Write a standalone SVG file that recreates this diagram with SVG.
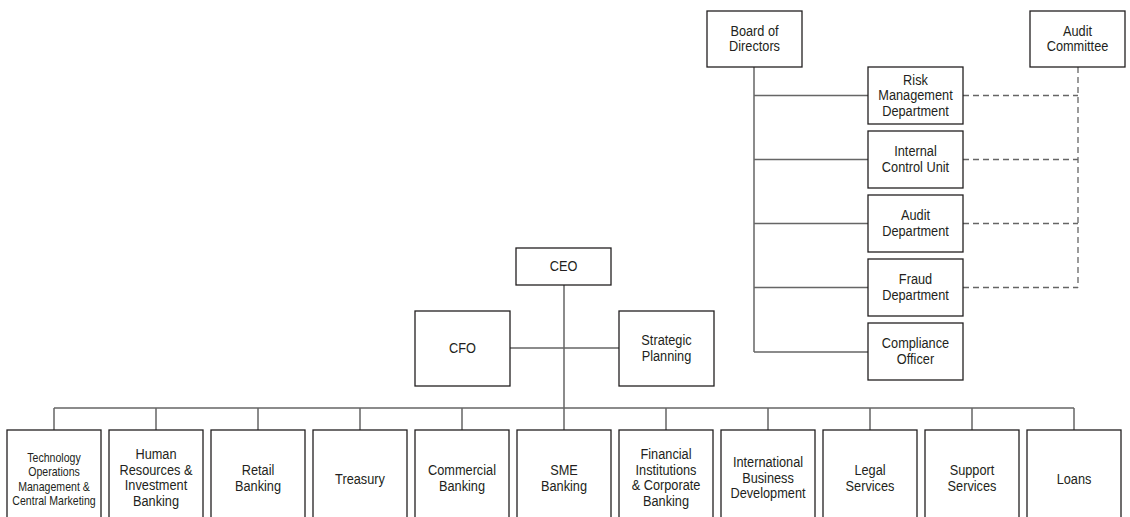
<svg xmlns="http://www.w3.org/2000/svg" width="1130" height="517" viewBox="0 0 1130 517">
<style>
rect.box{fill:#fff;stroke:#231f20;stroke-width:1.3}
text{font-family:"Liberation Sans",Arial,sans-serif;font-size:14.5px;fill:#231f20;text-anchor:middle}
text.sm{font-size:12px}
.ln{stroke:#666;stroke-width:1.5;fill:none}
.dl{stroke:#666;stroke-width:1.3;fill:none;stroke-dasharray:6 4}
</style>
<rect width="1130" height="517" fill="#fff"/>
<g id="connectors">
<path class="ln" d="M564 285V430M510 348H619M54 408H1074M54 408V430M156 408V430M258 408V430M360 408V430M462 408V430M666 408V430M768 408V430M870 408V430M972 408V430M1074 408V430"/>
<path class="ln" d="M754 67V352M754 95.5H868M754 159.5H868M754 223.5H868M754 287.5H868M754 352H868"/>
<path class="dl" d="M963 95.5H1078M963 159.5H1078M963 223.5H1078M963 287.5H1078M1078 67V287.5"/>
</g>
<g id="board"><rect class="box" x="707" y="11" width="95" height="56"/><text transform="translate(754.5,0) scale(0.88,1)" y="36"><tspan x="0">Board of</tspan><tspan x="0" dy="15.5">Directors</tspan></text></g>
<g id="audit-committee"><rect class="box" x="1030" y="11" width="95" height="56"/><text transform="translate(1077.5,0) scale(0.88,1)" y="36"><tspan x="0">Audit</tspan><tspan x="0" dy="15.5">Committee</tspan></text></g>
<g id="risk"><rect class="box" x="868" y="67" width="95" height="57"/><text transform="translate(915.5,0) scale(0.88,1)" y="85"><tspan x="0">Risk</tspan><tspan x="0" dy="15.5">Management</tspan><tspan x="0" dy="15.5">Department</tspan></text></g>
<g id="internal-control"><rect class="box" x="868" y="131" width="95" height="57"/><text transform="translate(915.5,0) scale(0.88,1)" y="156.5"><tspan x="0">Internal</tspan><tspan x="0" dy="15.5">Control Unit</tspan></text></g>
<g id="audit-dept"><rect class="box" x="868" y="195" width="95" height="57"/><text transform="translate(915.5,0) scale(0.88,1)" y="220.5"><tspan x="0">Audit</tspan><tspan x="0" dy="15.5">Department</tspan></text></g>
<g id="fraud"><rect class="box" x="868" y="259" width="95" height="57"/><text transform="translate(915.5,0) scale(0.88,1)" y="284.5"><tspan x="0">Fraud</tspan><tspan x="0" dy="15.5">Department</tspan></text></g>
<g id="compliance"><rect class="box" x="868" y="323" width="95" height="57"/><text transform="translate(915.5,0) scale(0.88,1)" y="348.5"><tspan x="0">Compliance</tspan><tspan x="0" dy="15.5">Officer</tspan></text></g>
<g id="ceo"><rect class="box" x="516" y="248" width="95" height="37"/><text transform="translate(563.5,0) scale(0.88,1)" y="271.5">CEO</text></g>
<g id="cfo"><rect class="box" x="415" y="311" width="95" height="75"/><text transform="translate(462.5,0) scale(0.88,1)" y="353.5">CFO</text></g>
<g id="strategic"><rect class="box" x="619" y="311" width="95" height="75"/><text transform="translate(666.5,0) scale(0.88,1)" y="345.5"><tspan x="0">Strategic</tspan><tspan x="0" dy="15.5">Planning</tspan></text></g>
<g id="tech"><rect class="box" x="7" y="430" width="94" height="100"/><text class="sm" transform="translate(54,0) scale(0.88,1)" y="462"><tspan x="0">Technology</tspan><tspan x="0" dy="14.5">Operations</tspan><tspan x="0" dy="14.5">Management &amp;</tspan><tspan x="0" dy="14.5">Central Marketing</tspan></text></g>
<g id="hr"><rect class="box" x="109" y="430" width="94" height="100"/><text transform="translate(156,0) scale(0.88,1)" y="459.5"><tspan x="0">Human</tspan><tspan x="0" dy="15.5">Resources &amp;</tspan><tspan x="0" dy="15.5">Investment</tspan><tspan x="0" dy="15.5">Banking</tspan></text></g>
<g id="retail"><rect class="box" x="211" y="430" width="94" height="100"/><text transform="translate(258,0) scale(0.88,1)" y="475.5"><tspan x="0">Retail</tspan><tspan x="0" dy="15.5">Banking</tspan></text></g>
<g id="treasury"><rect class="box" x="313" y="430" width="94" height="100"/><text transform="translate(360,0) scale(0.88,1)" y="484">Treasury</text></g>
<g id="commercial"><rect class="box" x="415" y="430" width="94" height="100"/><text transform="translate(462,0) scale(0.88,1)" y="475.5"><tspan x="0">Commercial</tspan><tspan x="0" dy="15.5">Banking</tspan></text></g>
<g id="sme"><rect class="box" x="517" y="430" width="94" height="100"/><text transform="translate(564,0) scale(0.88,1)" y="475.5"><tspan x="0">SME</tspan><tspan x="0" dy="15.5">Banking</tspan></text></g>
<g id="fi"><rect class="box" x="619" y="430" width="94" height="100"/><text transform="translate(666,0) scale(0.88,1)" y="459.5"><tspan x="0">Financial</tspan><tspan x="0" dy="15.5">Institutions</tspan><tspan x="0" dy="15.5">&amp; Corporate</tspan><tspan x="0" dy="15.5">Banking</tspan></text></g>
<g id="intl"><rect class="box" x="721" y="430" width="94" height="100"/><text transform="translate(768,0) scale(0.88,1)" y="467.5"><tspan x="0">International</tspan><tspan x="0" dy="15.5">Business</tspan><tspan x="0" dy="15.5">Development</tspan></text></g>
<g id="legal"><rect class="box" x="823" y="430" width="94" height="100"/><text transform="translate(870,0) scale(0.88,1)" y="475.5"><tspan x="0">Legal</tspan><tspan x="0" dy="15.5">Services</tspan></text></g>
<g id="support"><rect class="box" x="925" y="430" width="94" height="100"/><text transform="translate(972,0) scale(0.88,1)" y="475.5"><tspan x="0">Support</tspan><tspan x="0" dy="15.5">Services</tspan></text></g>
<g id="loans"><rect class="box" x="1027" y="430" width="94" height="100"/><text transform="translate(1074,0) scale(0.88,1)" y="484">Loans</text></g>
</svg>
